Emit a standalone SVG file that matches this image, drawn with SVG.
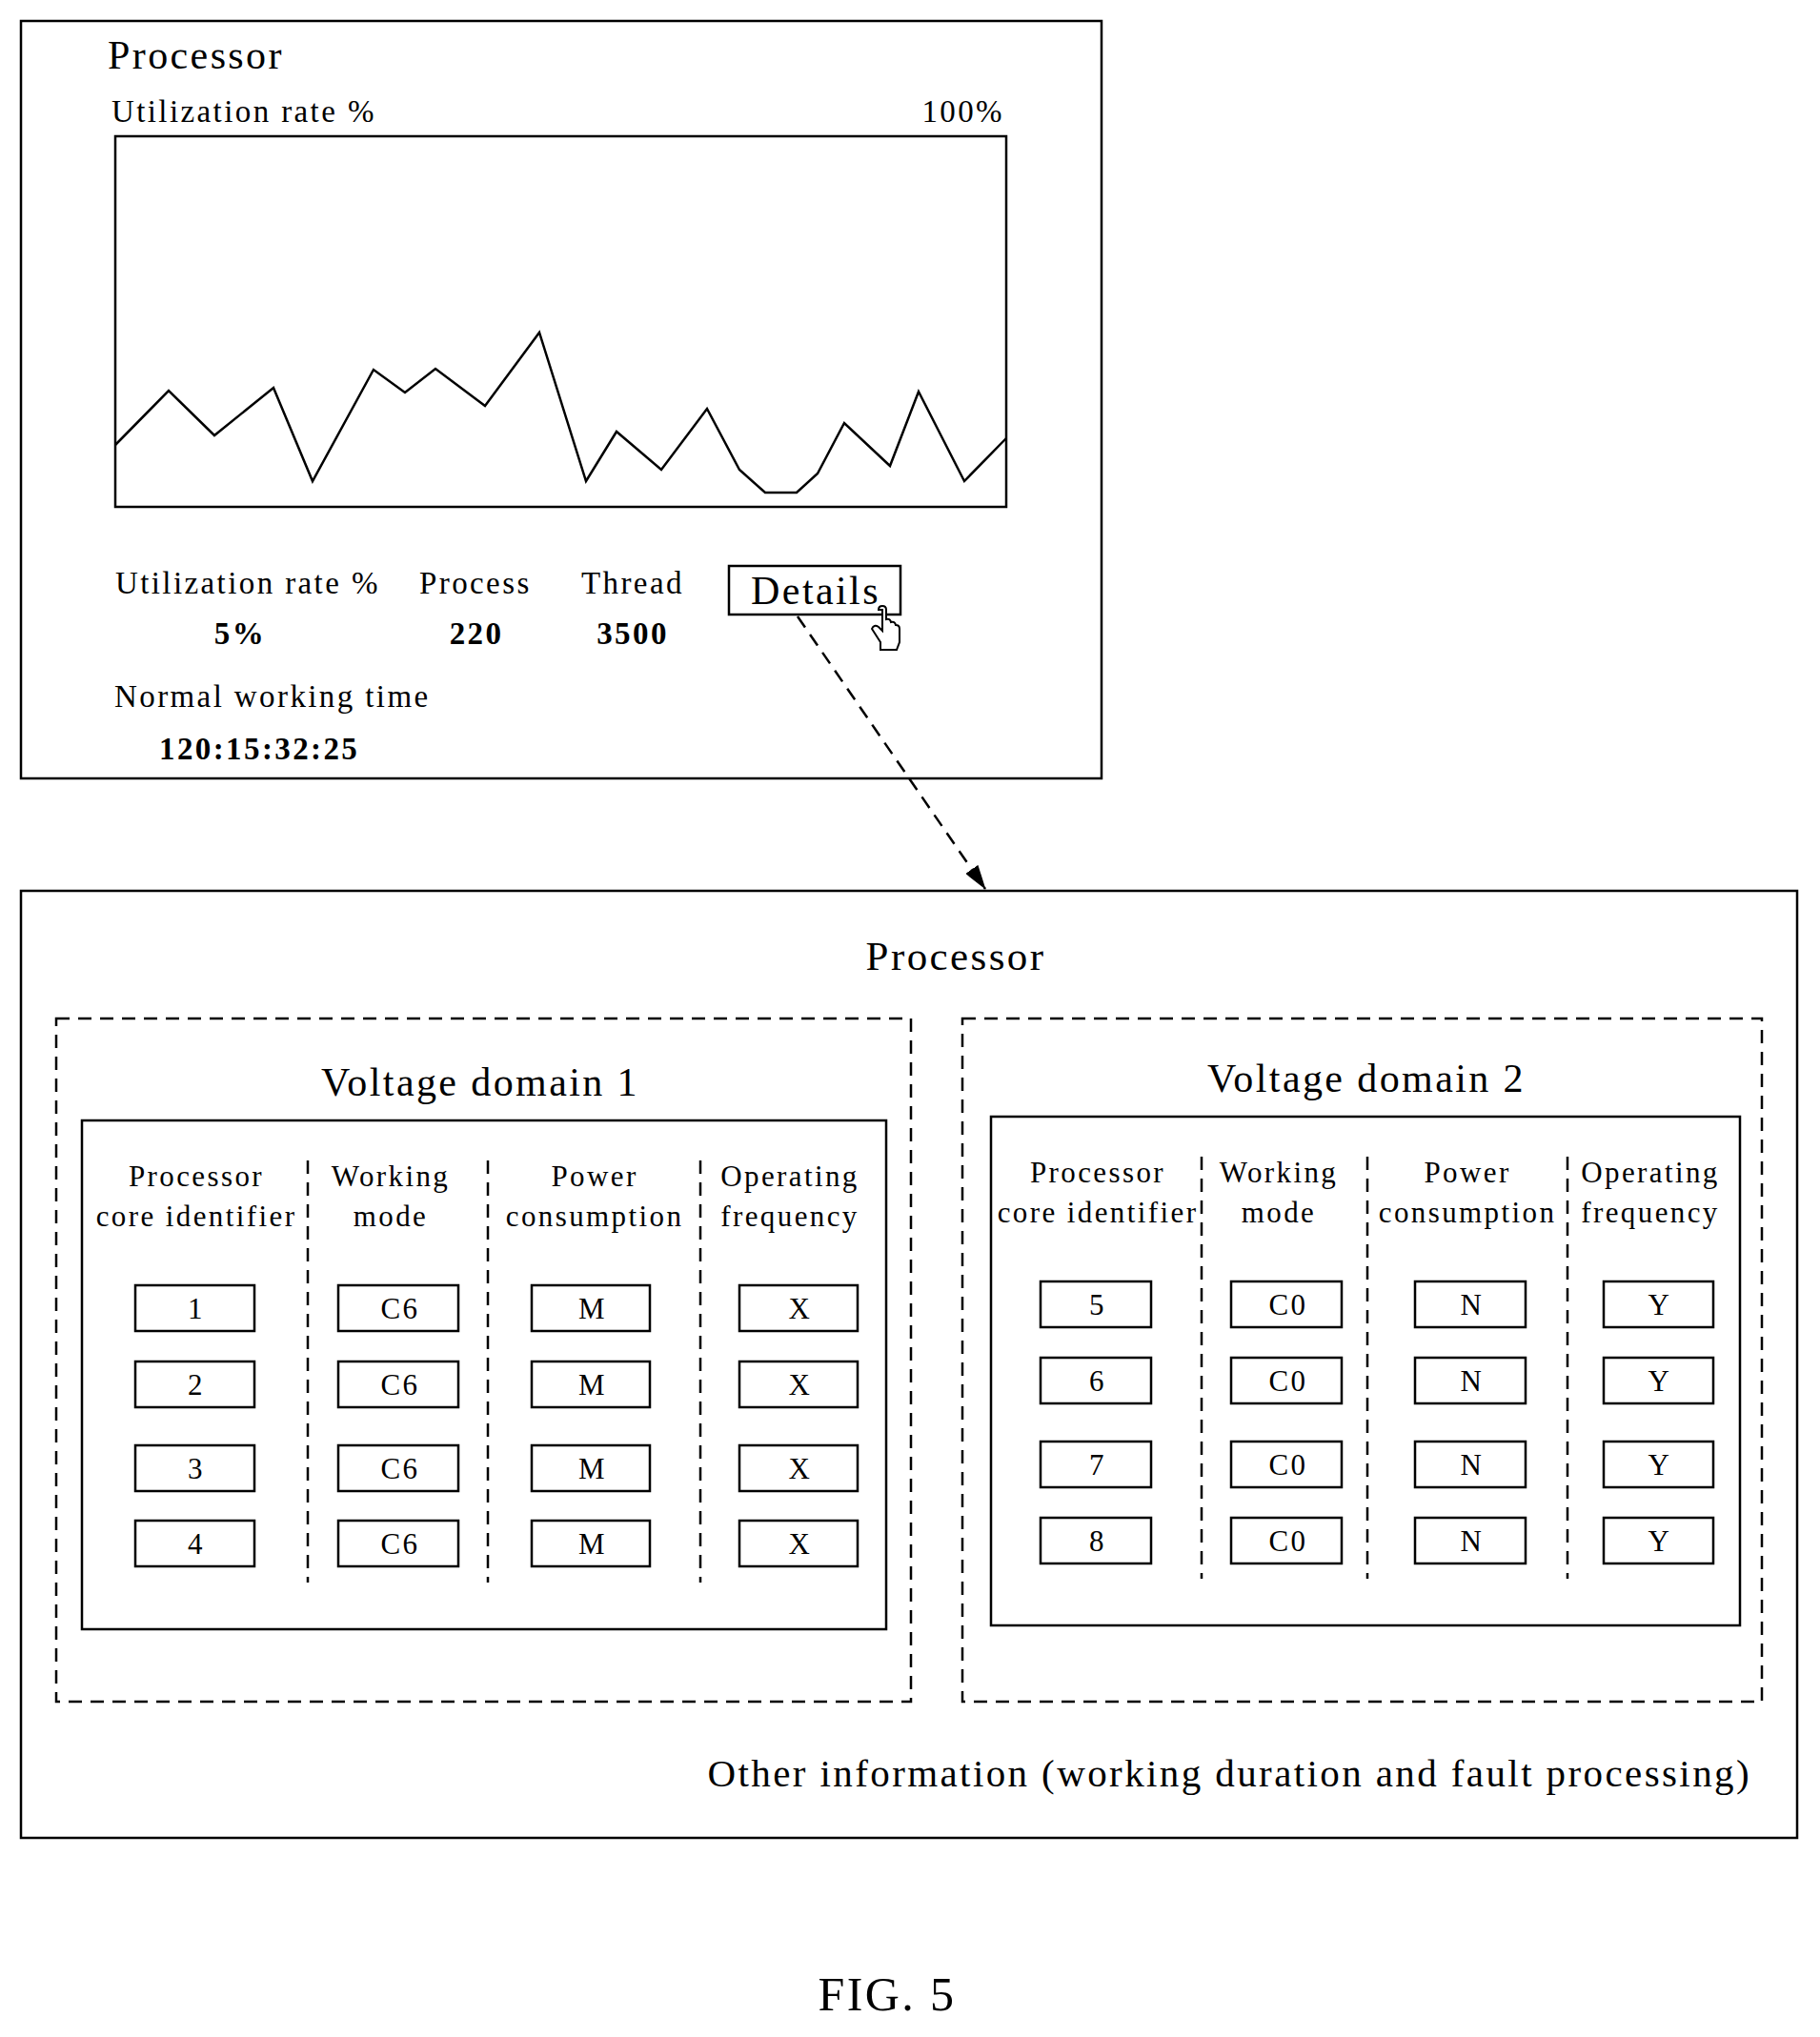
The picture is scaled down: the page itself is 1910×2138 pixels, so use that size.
<svg xmlns="http://www.w3.org/2000/svg" width="1910" height="2138" viewBox="0 0 1910 2138">
<style>
text{font-family:"Liberation Serif","Times New Roman",serif;fill:#000;letter-spacing:2.4px}
.s{fill:none;stroke:#000;stroke-width:2.5}
.d{fill:none;stroke:#000;stroke-width:2.5;stroke-dasharray:14 9}
.c{fill:#fff;stroke:#000;stroke-width:2.5}
.h{font-size:31px;text-anchor:middle}
.v{font-size:31px;text-anchor:middle}
</style>
<defs><marker id="ar" markerWidth="26" markerHeight="16" refX="25" refY="8" orient="auto" markerUnits="userSpaceOnUse"><path d="M0,0 L26,8 L0,16 Z" fill="#000"/></marker></defs>
<rect width="1910" height="2138" fill="#fff"/>
<g id="overview">
<rect class="s" x="22" y="22" width="1134" height="795"/>
<text x="113" y="72" font-size="42">Processor</text>
<text x="117" y="128" font-size="33">Utilization rate %</text>
<text x="1054" y="128" font-size="33" text-anchor="end">100%</text>
<rect class="s" x="121" y="143" width="935" height="389"/>
<polyline class="s" points="121,467 177,410 225,457 287,407 328,505 392,388 425,412 457,387 509,426 566,349 615,505 647,453 694,493 742,429 776,493 803,517 836,517 858,497 886,444 934,489 964,411 1012,505 1056,460"/>
<text x="121" y="623" font-size="33">Utilization rate %</text>
<text x="440" y="623" font-size="33">Process</text>
<text x="610" y="623" font-size="33">Thread</text>
<text x="252" y="676" font-size="33" font-weight="bold" text-anchor="middle">5%</text>
<text x="500" y="676" font-size="33" font-weight="bold" text-anchor="middle">220</text>
<text x="664" y="676" font-size="33" font-weight="bold" text-anchor="middle">3500</text>
<text x="120" y="742" font-size="33">Normal working time</text>
<text x="167" y="797" font-size="33" font-weight="bold">120:15:32:25</text>
</g>
<g id="details">
<rect class="s" x="765" y="594" width="180" height="51"/>
<text x="856" y="634" font-size="42" text-anchor="middle">Details</text>
<path d="M926,640 v22 l-4,-4 q-5,-3 -7,2 l9,14 v8 h17 l3,-8 v-14 q0,-4 -4,-4 q-1,-4 -5,-3 q-1,-4 -5,-3 v-10 q0,-4 -4,-4 q-4,0 -4,4 z" fill="#fff" stroke="#000" stroke-width="2"/>
</g>
<g id="connectors">
<line class="d" x1="837" y1="647" x2="1034" y2="933" marker-end="url(#ar)"/>
</g>
<g id="processor-detail">
<rect class="s" x="22" y="935" width="1864" height="994"/>
<text x="1003" y="1018" font-size="43" text-anchor="middle">Processor</text>
<text x="1838" y="1875" font-size="41" text-anchor="end">Other information (working duration and fault processing)</text>
</g>
<g id="domain1">
<rect class="d" x="59" y="1069" width="897" height="717"/>
<text x="504" y="1150" font-size="42" text-anchor="middle">Voltage domain 1</text>
<rect class="s" x="86" y="1176" width="844" height="534"/>
<text class="h" x="206" y="1245">Processor</text><text class="h" x="206" y="1287">core identifier</text>
<text class="h" x="410" y="1245">Working</text><text class="h" x="410" y="1287">mode</text>
<text class="h" x="624" y="1245">Power</text><text class="h" x="624" y="1287">consumption</text>
<text class="h" x="829" y="1245">Operating</text><text class="h" x="829" y="1287">frequency</text>
<line class="d" x1="323" y1="1218" x2="323" y2="1661"/>
<line class="d" x1="512" y1="1218" x2="512" y2="1661"/>
<line class="d" x1="735" y1="1218" x2="735" y2="1661"/>
<g>
<rect class="c" x="142" y="1349" width="125" height="48"/><text class="v" x="206" y="1384">1</text>
<rect class="c" x="142" y="1429" width="125" height="48"/><text class="v" x="206" y="1464">2</text>
<rect class="c" x="142" y="1517" width="125" height="48"/><text class="v" x="206" y="1552">3</text>
<rect class="c" x="142" y="1596" width="125" height="48"/><text class="v" x="206" y="1631">4</text>
<rect class="c" x="355" y="1349" width="126" height="48"/><text class="v" x="420" y="1384">C6</text>
<rect class="c" x="355" y="1429" width="126" height="48"/><text class="v" x="420" y="1464">C6</text>
<rect class="c" x="355" y="1517" width="126" height="48"/><text class="v" x="420" y="1552">C6</text>
<rect class="c" x="355" y="1596" width="126" height="48"/><text class="v" x="420" y="1631">C6</text>
<rect class="c" x="558" y="1349" width="124" height="48"/><text class="v" x="622" y="1384">M</text>
<rect class="c" x="558" y="1429" width="124" height="48"/><text class="v" x="622" y="1464">M</text>
<rect class="c" x="558" y="1517" width="124" height="48"/><text class="v" x="622" y="1552">M</text>
<rect class="c" x="558" y="1596" width="124" height="48"/><text class="v" x="622" y="1631">M</text>
<rect class="c" x="776" y="1349" width="124" height="48"/><text class="v" x="840" y="1384">X</text>
<rect class="c" x="776" y="1429" width="124" height="48"/><text class="v" x="840" y="1464">X</text>
<rect class="c" x="776" y="1517" width="124" height="48"/><text class="v" x="840" y="1552">X</text>
<rect class="c" x="776" y="1596" width="124" height="48"/><text class="v" x="840" y="1631">X</text>
</g>
</g>
<g id="domain2">
<rect class="d" x="1010" y="1069" width="839" height="717"/>
<text x="1434" y="1146" font-size="42" text-anchor="middle">Voltage domain 2</text>
<rect class="s" x="1040" y="1172" width="786" height="534"/>
<text class="h" x="1152" y="1241">Processor</text><text class="h" x="1152" y="1283">core identifier</text>
<text class="h" x="1342" y="1241">Working</text><text class="h" x="1342" y="1283">mode</text>
<text class="h" x="1540" y="1241">Power</text><text class="h" x="1540" y="1283">consumption</text>
<text class="h" x="1732" y="1241">Operating</text><text class="h" x="1732" y="1283">frequency</text>
<line class="d" x1="1261" y1="1214" x2="1261" y2="1657"/>
<line class="d" x1="1435" y1="1214" x2="1435" y2="1657"/>
<line class="d" x1="1645" y1="1214" x2="1645" y2="1657"/>
<g>
<rect class="c" x="1092" y="1345" width="116" height="48"/><text class="v" x="1152" y="1380">5</text>
<rect class="c" x="1092" y="1425" width="116" height="48"/><text class="v" x="1152" y="1460">6</text>
<rect class="c" x="1092" y="1513" width="116" height="48"/><text class="v" x="1152" y="1548">7</text>
<rect class="c" x="1092" y="1593" width="116" height="48"/><text class="v" x="1152" y="1628">8</text>
<rect class="c" x="1292" y="1345" width="116" height="48"/><text class="v" x="1352" y="1380">C0</text>
<rect class="c" x="1292" y="1425" width="116" height="48"/><text class="v" x="1352" y="1460">C0</text>
<rect class="c" x="1292" y="1513" width="116" height="48"/><text class="v" x="1352" y="1548">C0</text>
<rect class="c" x="1292" y="1593" width="116" height="48"/><text class="v" x="1352" y="1628">C0</text>
<rect class="c" x="1485" y="1345" width="116" height="48"/><text class="v" x="1545" y="1380">N</text>
<rect class="c" x="1485" y="1425" width="116" height="48"/><text class="v" x="1545" y="1460">N</text>
<rect class="c" x="1485" y="1513" width="116" height="48"/><text class="v" x="1545" y="1548">N</text>
<rect class="c" x="1485" y="1593" width="116" height="48"/><text class="v" x="1545" y="1628">N</text>
<rect class="c" x="1683" y="1345" width="115" height="48"/><text class="v" x="1742" y="1380">Y</text>
<rect class="c" x="1683" y="1425" width="115" height="48"/><text class="v" x="1742" y="1460">Y</text>
<rect class="c" x="1683" y="1513" width="115" height="48"/><text class="v" x="1742" y="1548">Y</text>
<rect class="c" x="1683" y="1593" width="115" height="48"/><text class="v" x="1742" y="1628">Y</text>
</g>
</g>
<text x="931" y="2110" font-size="50" text-anchor="middle">FIG. 5</text>
</svg>
